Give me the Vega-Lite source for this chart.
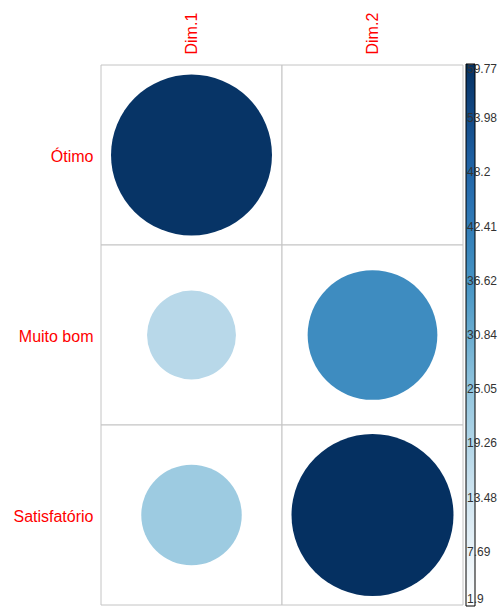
{
  "$schema": "https://vega.github.io/schema/vega-lite/v6.json",
  "autosize": "none",
  "width": 362,
  "height": 540,
  "padding": {"left": 101, "top": 65, "right": 37, "bottom": 5},
  "background": "white",
  "config": {"view": {"stroke": null}, "font": "Liberation Sans"},
  "data": {
    "values": [
      {"row": "Ótimo", "col": "Dim.1", "value": 59.0},
      {"row": "Muito bom", "col": "Dim.1", "value": 18.0},
      {"row": "Satisfatório", "col": "Dim.1", "value": 23.0},
      {"row": "Ótimo", "col": "Dim.2", "value": 1.9},
      {"row": "Muito bom", "col": "Dim.2", "value": 38.33},
      {"row": "Satisfatório", "col": "Dim.2", "value": 59.77}
    ]
  },
  "encoding": {
    "x": {
      "field": "col", "type": "nominal", "sort": ["Dim.1", "Dim.2"],
      "scale": {"type": "band", "paddingInner": 0, "paddingOuter": 0},
      "axis": {
        "orient": "top", "title": null, "domain": false, "ticks": false,
        "labelAngle": -90, "labelAlign": "left", "labelBaseline": "middle",
        "labelPadding": 11, "labelColor": "#FF0000", "labelFontSize": 16,
        "labelFont": "Liberation Sans"
      }
    },
    "y": {
      "field": "row", "type": "nominal", "sort": ["Ótimo", "Muito bom", "Satisfatório"],
      "scale": {"type": "band", "paddingInner": 0, "paddingOuter": 0},
      "axis": {
        "title": null, "domain": false, "ticks": false,
        "labelPadding": 8, "labelOffset": 2, "labelColor": "#FF0000", "labelFontSize": 16,
        "labelFont": "Liberation Sans"
      }
    }
  },
  "layer": [
    {
      "mark": {"type": "rect", "fill": "white", "stroke": "#C4C4C4", "strokeWidth": 1}
    },
    {
      "mark": {"type": "point", "shape": "circle", "filled": true, "opacity": 1, "strokeWidth": 0},
      "encoding": {
        "size": {
          "field": "value", "type": "quantitative",
          "scale": {"type": "linear", "domain": [0, 59.77], "range": [0, 26244], "zero": true},
          "legend": null
        },
        "color": {
          "field": "value", "type": "quantitative",
          "scale": {
            "type": "linear",
            "interpolate": "rgb",
            "domain": [1.9, 13.474, 25.048, 36.622, 48.196, 59.77],
            "range": ["#FFFFFF", "#D1E5F0", "#92C5DE", "#4393C3", "#2166AC", "#053061"]
          },
          "legend": {
            "orient": "none", "legendX": 365, "legendY": -1,
            "direction": "vertical", "title": null,
            "gradientLength": 542, "gradientThickness": 9,
            "gradientStrokeColor": "black", "gradientStrokeWidth": 1,
            "values": [1.9, 7.69, 13.48, 19.26, 25.05, 30.84, 36.62, 42.41, 48.2, 53.98, 59.77],
            "labelExpr": "'' + datum.value",
            "labelOverlap": false, "labelOffset": -8,
            "labelFontSize": 12, "labelColor": "#333333", "labelFont": "Liberation Sans"
          }
        }
      }
    }
  ]
}
